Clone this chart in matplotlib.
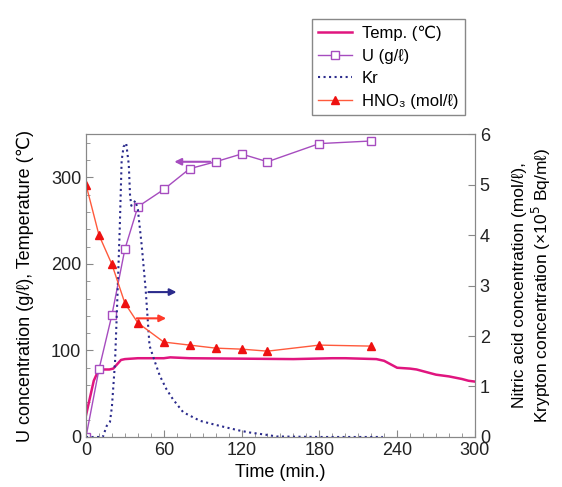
import matplotlib.pyplot as plt
from matplotlib.ticker import MultipleLocator

plt.rcParams['font.family'] = ['Liberation Sans', 'DejaVu Sans']

# temperature (deg C), left axis
temp_t = [0, 3, 6, 9, 12, 15, 18, 21, 24, 27, 30, 40, 60, 65, 80, 120, 160,
          190, 200, 224, 230, 240, 250, 255, 260, 270, 280, 290, 295, 300]
temp_v = [25, 45, 65, 75, 78, 78, 78, 79, 84, 89, 90, 91, 91, 92, 91, 90.5, 90,
          91, 91, 90, 88, 80, 79, 78, 76, 72, 70, 67, 65, 64]

# uranium (g/l), left axis
u_t = [0, 10, 20, 30, 40, 60, 80, 100, 120, 140, 180, 220]
u_v = [0, 78, 141, 217, 266, 286, 310, 318, 327, 318, 339, 342]

# krypton (x10^5 Bq/ml), right axis
kr_t = [0, 13, 16, 18.5, 20, 22.4, 24, 26, 27.5, 29, 31, 33, 34, 35, 36.5, 38, 40,
        43, 46, 49, 53, 57, 62, 67, 75, 88, 100, 108, 118, 126, 140, 147, 180, 229]
kr_v = [0, 0, 0.22, 0.3, 0.6, 1.48, 2.6, 4.1, 5.47, 5.75, 5.82, 5.4, 4.78, 4.58,
        4.62, 4.68, 4.51, 3.79, 2.93, 1.81, 1.5, 1.21, 0.95, 0.75, 0.49, 0.32,
        0.24, 0.19, 0.13, 0.09, 0.04, 0.01, 0.0, 0.0]

# nitric acid (mol/l), right axis
hno3_t = [0, 10, 20, 30, 40, 60, 80, 100, 120, 140, 180, 220]
hno3_v = [5.0, 4.0, 3.42, 2.65, 2.26, 1.88, 1.82, 1.76, 1.74, 1.70, 1.82, 1.80]

fig = plt.figure(figsize=(5.62, 4.87), dpi=100)
ax = fig.add_axes([0.153, 0.1027, 0.692, 0.622])
ax2 = ax.twinx()

l1, = ax.plot(temp_t, temp_v, color='#e0157f', lw=1.8, label='Temp. (\u2103)')
l2, = ax.plot(u_t, u_v, color='#a64cbf', lw=1.0, marker='s', ms=6,
              mfc='white', mec='#a64cbf', mew=1.0, label='U (g/\u2113)')
l3, = ax2.plot(kr_t, kr_v, color='#2b2b8c', lw=1.5, ls=':', label='Kr')
l4, = ax2.plot(hno3_t, hno3_v, color='#ff5a3c', lw=1.0, marker='^', ms=6,
               mfc='#ee1111', mec='#ee1111', label='HNO\u2083 (mol/\u2113)')

ax.set_xlim(0, 300)
ax.set_ylim(0, 350)
ax2.set_ylim(0, 6)
ax.xaxis.set_major_locator(MultipleLocator(60))
ax.xaxis.set_minor_locator(MultipleLocator(10))
ax.yaxis.set_major_locator(MultipleLocator(100))
ax.yaxis.set_minor_locator(MultipleLocator(20))
ax2.yaxis.set_major_locator(MultipleLocator(1))

for a in (ax, ax2):
    a.tick_params(which='both', direction='in', labelsize=13, colors='#888888',
                  labelcolor='#222222')
    a.tick_params(which='major', length=5)
    a.tick_params(which='minor', length=3)
    for s in a.spines.values():
        s.set_color('#888888')

# arrows pointing at the axis each curve belongs to
ax.annotate('', xy=(66, 318), xytext=(98, 318),
            arrowprops=dict(arrowstyle='-|>', color='#a64cbf', lw=1.5))
ax2.annotate('', xy=(72, 2.87), xytext=(46, 2.87),
             arrowprops=dict(arrowstyle='-|>', color='#2b2b8c', lw=1.5))
ax2.annotate('', xy=(64, 2.35), xytext=(37, 2.35),
             arrowprops=dict(arrowstyle='-|>', color='#ff3a2a', lw=1.5))

ax.set_xlabel('Time (min.)', fontsize=13, labelpad=4)
ax.set_ylabel('U concentration (g/\u2113), Temperature (\u2103)', fontsize=13,
              labelpad=12)
ax2.set_ylabel('Nitric acid concentration (mol/\u2113),\n'
               'Krypton concentration (\u00d710$^5$ Bq/m\u2113)',
               fontsize=12.5, labelpad=16, linespacing=1.15)

leg = fig.legend(handles=[l1, l2, l3, l4], loc='upper right',
                 bbox_to_anchor=(0.842, 0.978), fontsize=12, fancybox=False,
                 framealpha=1, edgecolor='#888888', handlelength=2.0,
                 borderpad=0.4, labelspacing=0.45, handletextpad=0.6)

fig.savefig('out.png', dpi=100)
